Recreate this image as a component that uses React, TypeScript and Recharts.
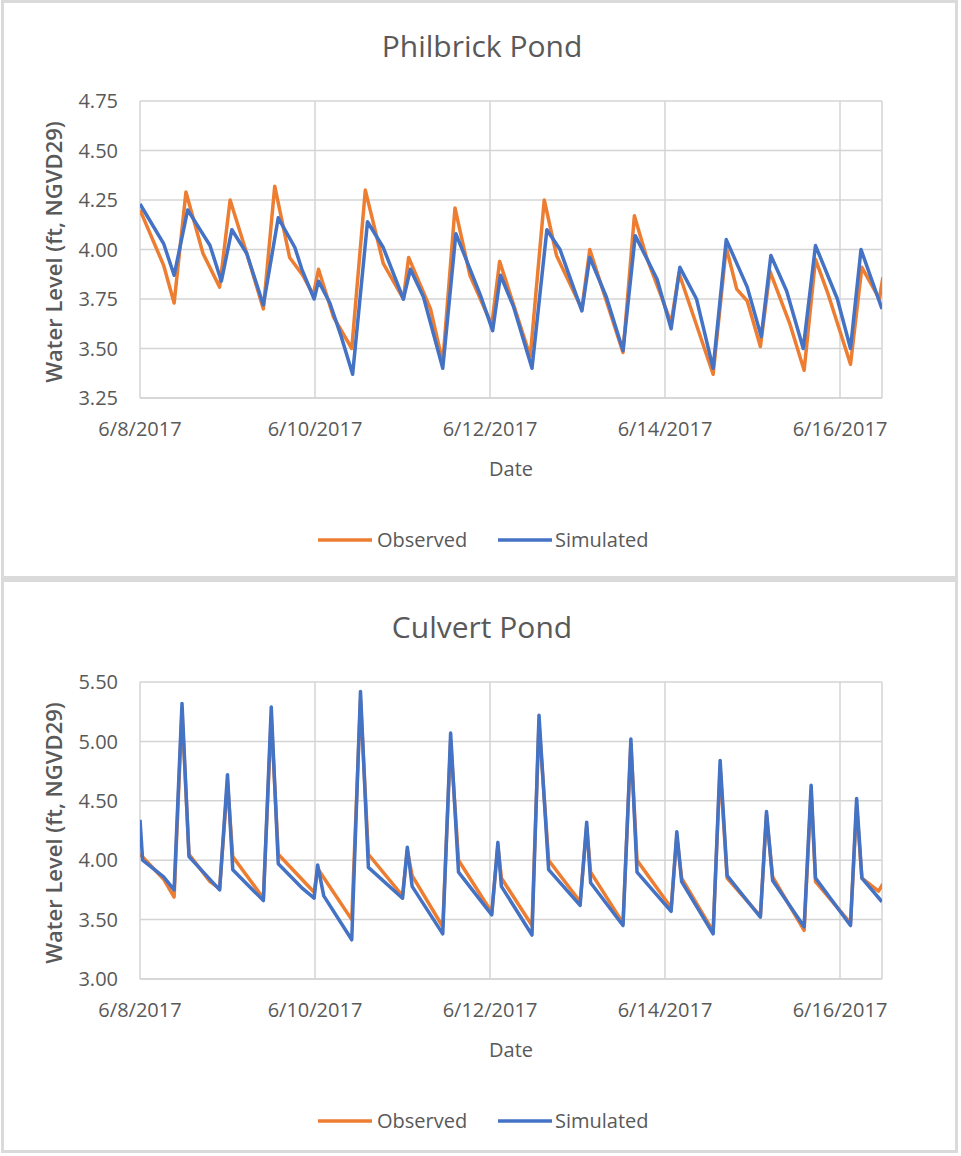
import React from 'react';
import { LineChart, Line, XAxis, YAxis, CartesianGrid } from 'recharts';

// ---- shared axis data ----
const dateTicks = [0, 2, 4, 6, 8];
const dateLabels = ['6/8/2017', '6/10/2017', '6/12/2017', '6/14/2017', '6/16/2017'];

// ---- Philbrick Pond ----
const philTicks = [3.25, 3.5, 3.75, 4.0, 4.25, 4.5, 4.75];
const philObsDay = [0, 0.27, 0.39, 0.525, 0.72, 0.91, 1.03, 1.22, 1.41, 1.54, 1.71, 1.86, 1.98, 2.04, 2.21, 2.42, 2.575, 2.78, 3.01, 3.07, 3.32, 3.46, 3.6, 3.77, 4.02, 4.11, 4.46, 4.62, 4.76, 5.05, 5.14, 5.52, 5.65, 5.79, 6.07, 6.16, 6.55, 6.7, 6.82, 6.94, 7.09, 7.2, 7.43, 7.59, 7.72, 7.86, 8.12, 8.25, 8.45, 8.49];
const philObsLevel = [4.2, 3.92, 3.73, 4.29, 3.98, 3.81, 4.25, 3.98, 3.7, 4.32, 3.96, 3.87, 3.77, 3.9, 3.66, 3.5, 4.3, 3.93, 3.75, 3.96, 3.7, 3.43, 4.21, 3.87, 3.62, 3.94, 3.46, 4.25, 3.97, 3.7, 4.0, 3.48, 4.17, 3.96, 3.63, 3.88, 3.37, 4.01, 3.8, 3.74, 3.51, 3.89, 3.62, 3.39, 3.95, 3.78, 3.42, 3.91, 3.75, 3.86];
const philSimDay = [0, 0.27, 0.39, 0.545, 0.8, 0.93, 1.05, 1.22, 1.41, 1.58, 1.77, 1.85, 1.99, 2.04, 2.17, 2.3, 2.43, 2.6, 2.78, 3.01, 3.09, 3.24, 3.46, 3.61, 3.89, 4.03, 4.12, 4.27, 4.48, 4.65, 4.8, 5.05, 5.14, 5.33, 5.52, 5.66, 5.91, 6.07, 6.17, 6.36, 6.55, 6.7, 6.94, 7.1, 7.21, 7.39, 7.58, 7.72, 7.97, 8.12, 8.24, 8.48];
const philSimLevel = [4.23, 4.03, 3.87, 4.2, 4.02, 3.84, 4.1, 3.98, 3.72, 4.16, 4.01, 3.9, 3.75, 3.84, 3.73, 3.56, 3.37, 4.14, 4.01, 3.75, 3.9, 3.76, 3.4, 4.08, 3.77, 3.59, 3.87, 3.71, 3.4, 4.1, 4.0, 3.69, 3.96, 3.76, 3.49, 4.07, 3.85, 3.6, 3.91, 3.75, 3.4, 4.05, 3.81, 3.56, 3.97, 3.79, 3.5, 4.02, 3.75, 3.5, 4.0, 3.7];

// ---- Culvert Pond ----
const culTicks = [3.0, 3.5, 4.0, 4.5, 5.0, 5.5];
const culObsDay = [0, 0.27, 0.39, 0.48, 0.56, 0.8, 0.91, 1.0, 1.06, 1.2, 1.41, 1.5, 1.58, 1.99, 2.03, 2.42, 2.52, 2.61, 3.0, 3.055, 3.11, 3.46, 3.55, 3.64, 4.02, 4.09, 4.13, 4.48, 4.56, 4.67, 5.03, 5.105, 5.15, 5.52, 5.61, 5.68, 6.07, 6.135, 6.19, 6.55, 6.63, 6.71, 7.09, 7.16, 7.23, 7.59, 7.67, 7.72, 8.12, 8.19, 8.25, 8.44, 8.49];
const culObsLevel = [4.05, 3.84, 3.69, 5.25, 4.05, 3.82, 3.76, 4.65, 4.03, 3.89, 3.68, 5.2, 4.05, 3.73, 3.93, 3.5, 5.35, 4.05, 3.7, 4.08, 3.87, 3.44, 5.0, 4.0, 3.56, 4.12, 3.85, 3.45, 5.15, 4.0, 3.65, 4.28, 3.9, 3.47, 4.98, 4.0, 3.6, 4.2, 3.85, 3.4, 4.78, 3.85, 3.53, 4.38, 3.86, 3.41, 4.58, 3.82, 3.47, 4.45, 3.85, 3.74, 3.8];
const culSimDay = [0, 0.03, 0.27, 0.39, 0.48, 0.56, 0.91, 1.0, 1.06, 1.41, 1.5, 1.58, 1.86, 1.99, 2.03, 2.1, 2.42, 2.52, 2.61, 3.0, 3.055, 3.11, 3.46, 3.55, 3.64, 4.02, 4.09, 4.13, 4.48, 4.56, 4.67, 5.03, 5.105, 5.15, 5.52, 5.61, 5.68, 6.07, 6.135, 6.19, 6.55, 6.63, 6.71, 7.09, 7.16, 7.23, 7.59, 7.67, 7.72, 8.12, 8.19, 8.25, 8.48];
const culSimLevel = [4.34, 4.0, 3.86, 3.75, 5.32, 4.03, 3.75, 4.72, 3.92, 3.66, 5.29, 3.97, 3.76, 3.68, 3.96, 3.7, 3.33, 5.42, 3.94, 3.68, 4.11, 3.78, 3.38, 5.07, 3.9, 3.54, 4.15, 3.78, 3.37, 5.22, 3.92, 3.62, 4.32, 3.81, 3.45, 5.02, 3.9, 3.57, 4.24, 3.82, 3.38, 4.84, 3.87, 3.52, 4.41, 3.83, 3.44, 4.63, 3.85, 3.45, 4.52, 3.85, 3.65];

const OBS_COLOR = '#ED7D31';
const SIM_COLOR = '#4472C4';
const TEXT = '#595959';
const GRID = '#d4d4d4';
const FONT = "'Open Sans', 'Noto Sans', sans-serif";

const toSeries = (days: number[], levels: number[]) => days.map((d, i) => ({ day: d, level: levels[i] }));

type PanelProps = {
  top: number;
  title: string;
  yTicks: number[];
  obs: { day: number; level: number }[];
  sim: { day: number; level: number }[];
};

function Panel({ top, title, yTicks, obs, sim }: PanelProps) {
  const W = 961;
  const H = 578;
  return (
    <div style={{ position: 'absolute', left: 0, top, width: W, height: H }}>
      <LineChart width={W} height={H} margin={{ top: 101, right: 79, bottom: 150, left: 80 }}>
        <CartesianGrid stroke={GRID} strokeWidth={1.5} vertical horizontal />
        <XAxis
          dataKey="day"
          type="number"
          domain={[0, 8.48]}
          ticks={dateTicks}
          allowDataOverflow
          height={30}
          tickSize={0}
          tickMargin={24}
          axisLine={{ stroke: GRID, strokeWidth: 1.5 }}
          tickFormatter={(v: number) => dateLabels[dateTicks.indexOf(v)] ?? ''}
          tick={{ fill: TEXT, fontSize: 20, fontFamily: FONT }}
          interval={0}
        />
        <YAxis
          type="number"
          domain={[yTicks[0], yTicks[yTicks.length - 1]]}
          ticks={yTicks}
          allowDataOverflow
          width={60}
          tickSize={0}
          tickMargin={22}
          axisLine={false}
          tickFormatter={(v: number) => v.toFixed(2)}
          tick={{ fill: TEXT, fontSize: 20, fontFamily: FONT }}
          interval={0}
        />
        <Line
          data={obs}
          dataKey="level"
          name="Observed"
          type="linear"
          stroke={OBS_COLOR}
          strokeWidth={3.5}
          strokeLinejoin="round"
          dot={false}
          activeDot={false}
          isAnimationActive={false}
        />
        <Line
          data={sim}
          dataKey="level"
          name="Simulated"
          type="linear"
          stroke={SIM_COLOR}
          strokeWidth={3.5}
          strokeLinejoin="round"
          dot={false}
          activeDot={false}
          isAnimationActive={false}
        />
      </LineChart>
      <svg
        width={W}
        height={H}
        style={{ position: 'absolute', left: 0, top: 0, pointerEvents: 'none' }}
        fontFamily={FONT}
      >
        <text x={482} y={57} textAnchor="middle" fontSize={30} fill={TEXT}>
          {title}
        </text>
        <text x={511} y={476} textAnchor="middle" fontSize={20} fill={TEXT}>
          Date
        </text>
        <text
          x={0}
          y={0}
          transform="translate(62,252) rotate(-90)"
          textAnchor="middle"
          fontSize={22}
          fontWeight={600}
          fill={TEXT}
        >
          Water Level (ft,  NGVD29)
        </text>
        <line x1={318} x2={372} y1={540} y2={540} stroke={OBS_COLOR} strokeWidth={3.5} />
        <text x={377} y={547} fontSize={20} fill={TEXT}>
          Observed
        </text>
        <line x1={498} x2={552} y1={540} y2={540} stroke={SIM_COLOR} strokeWidth={3.5} />
        <text x={555} y={547} fontSize={20} fill={TEXT}>
          Simulated
        </text>
      </svg>
    </div>
  );
}

export default function App() {
  return (
    <div style={{ position: 'absolute', left: 0, top: 0, width: 961, height: 1156, background: '#fff' }}>
      <div style={{ position: 'absolute', left: 1, top: 0, width: 957, height: 579, border: '3px solid #dadada', boxSizing: 'border-box' }} />
      <div style={{ position: 'absolute', left: 1, top: 579, width: 957, height: 574, border: '3px solid #dadada', boxSizing: 'border-box' }} />
      <Panel top={0} title="Philbrick Pond" yTicks={philTicks} obs={toSeries(philObsDay, philObsLevel)} sim={toSeries(philSimDay, philSimLevel)} />
      <Panel top={581} title="Culvert Pond" yTicks={culTicks} obs={toSeries(culObsDay, culObsLevel)} sim={toSeries(culSimDay, culSimLevel)} />
    </div>
  );
}
